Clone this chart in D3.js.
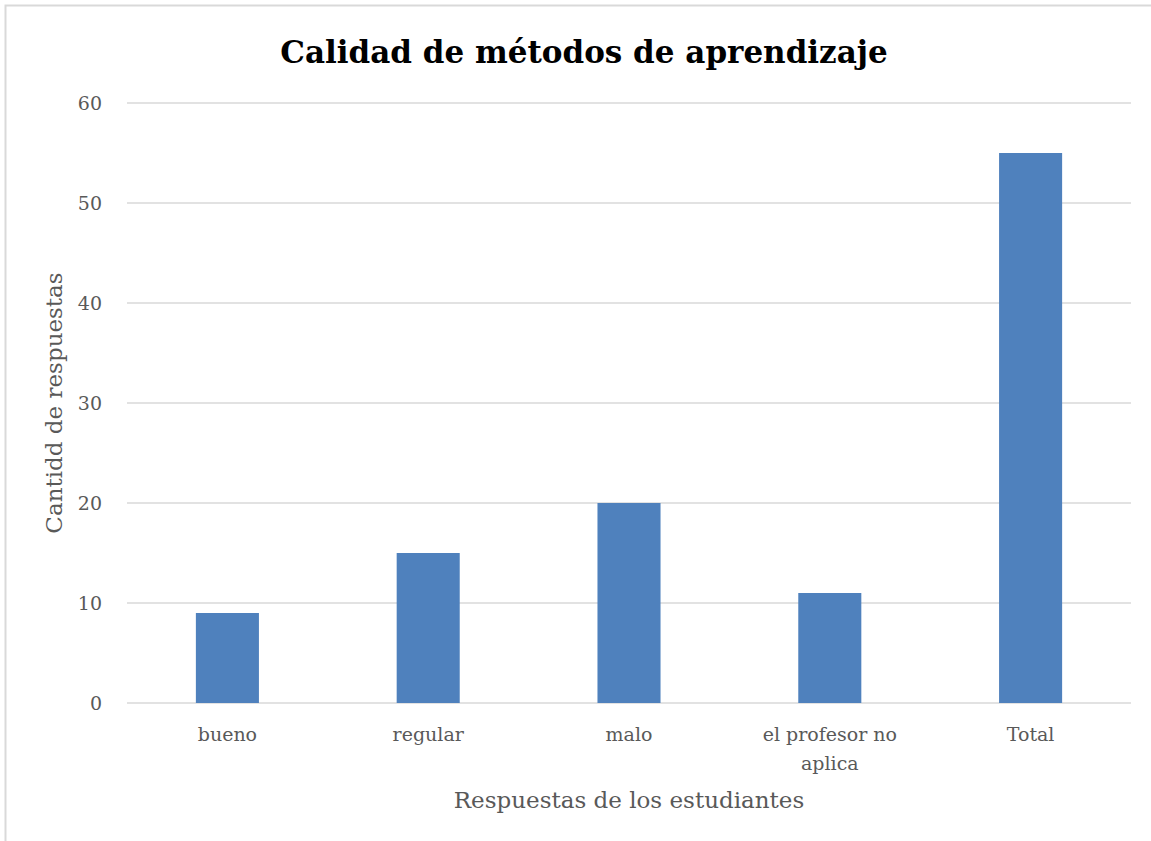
<!DOCTYPE html>
<html lang="es">
<head>
<meta charset="UTF-8">
<title>Calidad de métodos de aprendizaje</title>
<script src="https://cdn.jsdelivr.net/npm/d3@7"></script>
<style>
  body { margin: 0; background: #fff; }
  text { font-family: "DejaVu Serif", serif; fill: #595959; }
</style>
</head>
<body>
<svg width="1151" height="841"></svg>
<script>
  // data
  const categories = ["bueno", "regular", "malo", "el profesor no aplica", "Total"];
  const labelLines = [["bueno"], ["regular"], ["malo"], ["el profesor no", "aplica"], ["Total"]];
  const values = [9, 15, 20, 11, 55];
  const yTicks = [0, 10, 20, 30, 40, 50, 60];

  const svg = d3.select("svg");
  const W = 1151, H = 841;
  const margin = { left: 127, top: 103 };
  const plotW = 1131 - margin.left, plotH = 703 - margin.top;

  // chart frame
  svg.append("rect")
    .attr("x", 5.5).attr("y", 5.5)
    .attr("width", W + 10).attr("height", H + 10)
    .attr("fill", "#fff").attr("stroke", "#d9d9d9").attr("stroke-width", 2);

  const x = d3.scaleBand().domain(categories).range([margin.left, margin.left + plotW])
    .paddingInner(0.686).paddingOuter(0.343);
  const y = d3.scaleLinear().domain([0, 60]).range([margin.top + plotH, margin.top]);

  // gridlines
  svg.append("g").selectAll("line").data(yTicks).enter().append("line")
    .attr("x1", margin.left).attr("x2", margin.left + plotW)
    .attr("y1", d => y(d)).attr("y2", d => y(d))
    .attr("stroke", "#d9d9d9").attr("stroke-width", 1.5);

  // y tick labels
  svg.append("g").selectAll("text").data(yTicks).enter().append("text")
    .attr("x", 102).attr("y", d => y(d) + 7)
    .attr("text-anchor", "end").attr("font-size", 19)
    .text(d => d);

  // bars
  svg.append("g").selectAll("rect").data(values).enter().append("rect")
    .attr("x", (d, i) => x(categories[i]))
    .attr("y", d => y(d))
    .attr("width", x.bandwidth())
    .attr("height", d => y(0) - y(d))
    .attr("fill", "#4f81bd");

  // category labels
  const cat = svg.append("g").selectAll("text").data(labelLines).enter().append("text")
    .attr("x", (d, i) => x(categories[i]) + x.bandwidth() / 2)
    .attr("y", 741)
    .attr("text-anchor", "middle").attr("font-size", 19);
  cat.selectAll("tspan").data(d => d).enter().append("tspan")
    .attr("x", function () { return d3.select(this.parentNode).attr("x"); })
    .attr("dy", (d, i) => i === 0 ? 0 : 29)
    .text(d => d);

  // axis titles
  svg.append("text")
    .attr("x", 629).attr("y", 808)
    .attr("text-anchor", "middle").attr("font-size", 23)
    .text("Respuestas de los estudiantes");

  svg.append("text")
    .attr("transform", "translate(62,403) rotate(-90)")
    .attr("text-anchor", "middle").attr("font-size", 23)
    .text("Cantidd de respuestas");

  // title
  svg.append("text")
    .attr("x", 584).attr("y", 63)
    .attr("text-anchor", "middle").attr("font-size", 31).attr("font-weight", "bold")
    .style("fill", "#000")
    .text("Calidad de métodos de aprendizaje");
</script>
</body>
</html>
